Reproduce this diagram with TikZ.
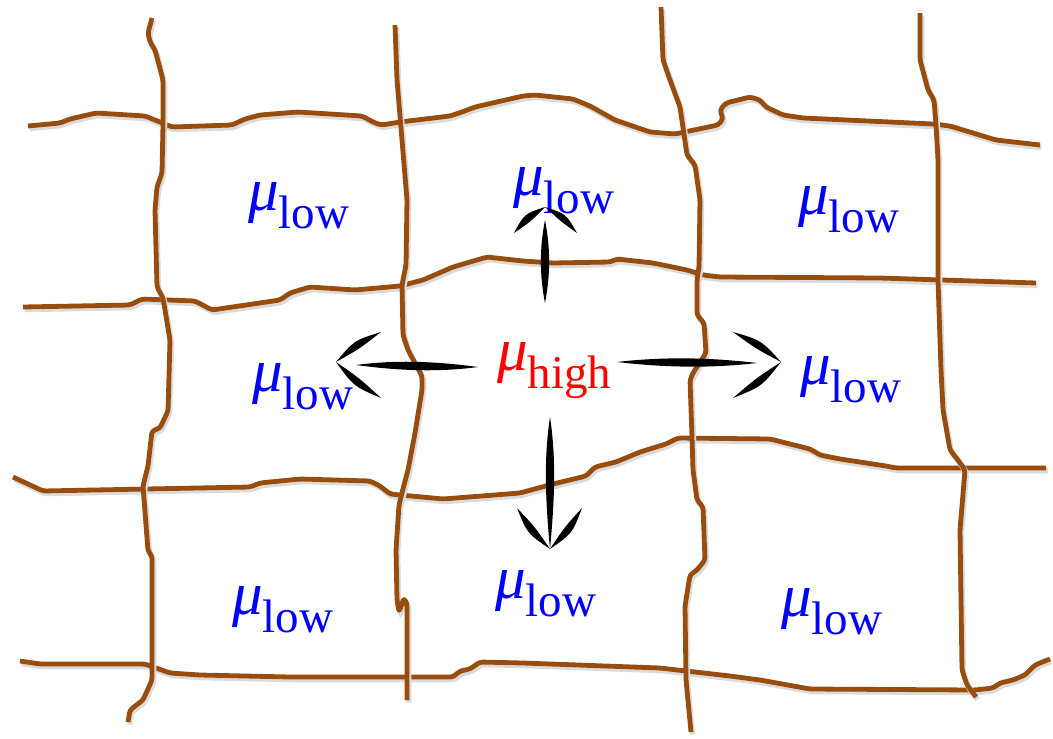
\documentclass[tikz,border=0pt]{standalone}
\usepackage{fontspec}
\setmainfont{Liberation Serif}
\definecolor{gridbrown}{RGB}{152,76,14}
\newcommand{\mulbl}[1]{{\fontsize{61}{61}\selectfont\itshape μ}\raisebox{-18pt}{\fontsize{47}{47}\selectfont #1}}
\begin{document}
\begin{tikzpicture}[x=1pt,y=-1pt,
  gridline/.style={draw=gridbrown, line width=4.8pt, line join=round, rounded corners=3pt,
    preaction={draw=black!14, line width=5.5pt, transform canvas={shift={(1.5pt,-2.5pt)}}}},
  lowlbl/.style={anchor=base west, inner sep=0pt, text=blue},
  highlbl/.style={anchor=base west, inner sep=0pt, text=red},
  arrowpart/.style={fill=black, draw=none}]
\fill[white] (0,0) rectangle (1053,739);
\useasboundingbox (0,0) rectangle (1053,739);

% horizontal grid lines
\path[gridline] (28,126) -- (60,123) -- (70,119) -- (96,113) -- (145,116) -- (155,120) -- (172,127) -- (232,125) -- (245,119) -- (260,115) -- (298,112) -- (362,116) -- (375,123) -- (382,125) -- (400,122) -- (450,116) -- (462,112) -- (475,107) -- (523,96) -- (535,95) -- (573,99) -- (590,106) -- (615,120) -- (650,132) -- (675,134) -- (718,125) -- (723,119) -- (720,110) -- (726,103) -- (750,97) -- (760,100) -- (766,107) -- (783,115) -- (803,118) -- (933,124) -- (950,126) -- (996,140) -- (1040,145);
\path[gridline] (23,307) -- (130,305) -- (142,299) -- (195,301) -- (212,310) -- (280,300) -- (290,293) -- (310,287) -- (355,290) -- (400,286) -- (423,280) -- (453,267) -- (487,257) -- (523,261) -- (553,263) -- (610,262) -- (617,259) -- (653,263) -- (687,270) -- (703,275) -- (720,277) -- (880,278) -- (1036,283);
\path[gridline] (13,477) -- (43,491) -- (250,487) -- (260,483) -- (300,479) -- (370,481) -- (380,486) -- (390,494) -- (443,499) -- (520,493) -- (553,484) -- (586,476) -- (595,467) -- (616,462) -- (640,452) -- (666,444) -- (678,438) -- (770,439) -- (810,449) -- (820,455) -- (840,459) -- (886,466) -- (896,468) -- (1046,468);
\path[gridline] (20,661) -- (40,664) -- (145,664) -- (170,673) -- (200,675) -- (290,677) -- (405,677) -- (453,677) -- (460,671) -- (470,669) -- (480,662) -- (523,663) -- (660,668) -- (730,676) -- (760,680) -- (810,689) -- (975,690) -- (993,688) -- (1000,683) -- (1013,680) -- (1025,675) -- (1035,665) -- (1050,659);

% vertical grid lines
\path[gridline] (152,18) -- (148,33) -- (150,42) -- (155,50) -- (163,80) -- (163,125) -- (162,173) -- (157,187) -- (155,210) -- (157,287) -- (163,298) -- (170,340) -- (168,411) -- (160,428) -- (152,431) -- (148,466) -- (143,486) -- (148,551) -- (152,556) -- (152,680) -- (143,700) -- (130,710) -- (128,722);
\path[gridline] (395,25) -- (397,80) -- (407,200) -- (406,265) -- (402,285) -- (403,335) -- (408,350) -- (416,365) -- (422,376) -- (422,390) -- (415,433) -- (408,470) -- (404,485) -- (399,505) -- (396,550) -- (397,600) -- (399,612) -- (404,598) -- (407,604) -- (407,700);
\path[gridline] (661,7) -- (663,60) -- (670,80) -- (680,107) -- (687,155) -- (695,165) -- (700,200) -- (699,267) -- (697,280) -- (697,315) -- (704,323) -- (706,353) -- (693,373) -- (690,380) -- (692,437) -- (693,470) -- (697,500) -- (703,507) -- (705,560) -- (697,570) -- (690,575) -- (685,606) -- (686,680) -- (691,732);
\path[gridline] (920,13) -- (920,60) -- (928,90) -- (934,100) -- (936,125) -- (938,160) -- (938,280) -- (941,370) -- (943,410) -- (950,450) -- (958,460) -- (965,470) -- (960,530) -- (962,670) -- (967,685) -- (976,697);

% labels
\node[lowlbl] (tl) at (248,210) {\mulbl{low}};
\node[lowlbl] (tm) at (513,195) {\mulbl{low}};
\node[lowlbl] (tr) at (798,214) {\mulbl{low}};
\node[lowlbl] (ml) at (252,391) {\mulbl{low}};
\node[lowlbl] (mr) at (800,384) {\mulbl{low}};
\node[highlbl] (c) at (497,370) {\mulbl{high}};
\node[lowlbl] (bl) at (232,614) {\mulbl{low}};
\node[lowlbl] (bm) at (495,598) {\mulbl{low}};
\node[lowlbl] (br) at (781,616) {\mulbl{low}};

% up arrow
\path[arrowpart] (545,303) .. controls (550.5,275) and (550.5,248) .. (545,220) .. controls (539.5,248) and (539.5,275) .. (545,303) -- cycle;
\path[arrowpart] (545,207) .. controls (524.4,213.8) .. (514,233) .. controls (530.8,221.5) .. (545,207) -- cycle;
\path[arrowpart] (545,207) .. controls (566.0,213.8) .. (577,233) .. controls (561.0,221.6) .. (545,207) -- cycle;
% down arrow
\path[arrowpart] (550,549) .. controls (555.5,491) and (555.5,454) .. (550,417) .. controls (544.5,454) and (544.5,491) .. (550,549) -- cycle;
\path[arrowpart] (550,549) .. controls (527.3,533.5) .. (517,508) .. controls (535.1,527.2) .. (550,549) -- cycle;
\path[arrowpart] (550,549) .. controls (572.3,533.4) .. (582,508) .. controls (564.4,527.3) .. (550,549) -- cycle;
% left arrow
\path[arrowpart] (478,367) .. controls (437,372.5) and (397,370.5) .. (356,365) .. controls (397,359.5) and (437,361.5) .. (478,367) -- cycle;
\path[arrowpart] (336,362) .. controls (354.1,340.4) .. (381,332) .. controls (359.6,348.7) .. (336,362) -- cycle;
\path[arrowpart] (336,362) .. controls (353.5,386.2) .. (381,398) .. controls (359.7,378.4) .. (336,362) -- cycle;
% right arrow
\path[arrowpart] (617,362) .. controls (664,356.5) and (710,357.5) .. (757,363) .. controls (710,368.5) and (664,367.5) .. (617,362) -- cycle;
\path[arrowpart] (781,362) .. controls (761.2,340.2) .. (733,332) .. controls (755.9,348.7) .. (781,362) -- cycle;
\path[arrowpart] (781,362) .. controls (761.8,386.4) .. (733,398) .. controls (755.8,378.4) .. (781,362) -- cycle;
\end{tikzpicture}
\end{document}
